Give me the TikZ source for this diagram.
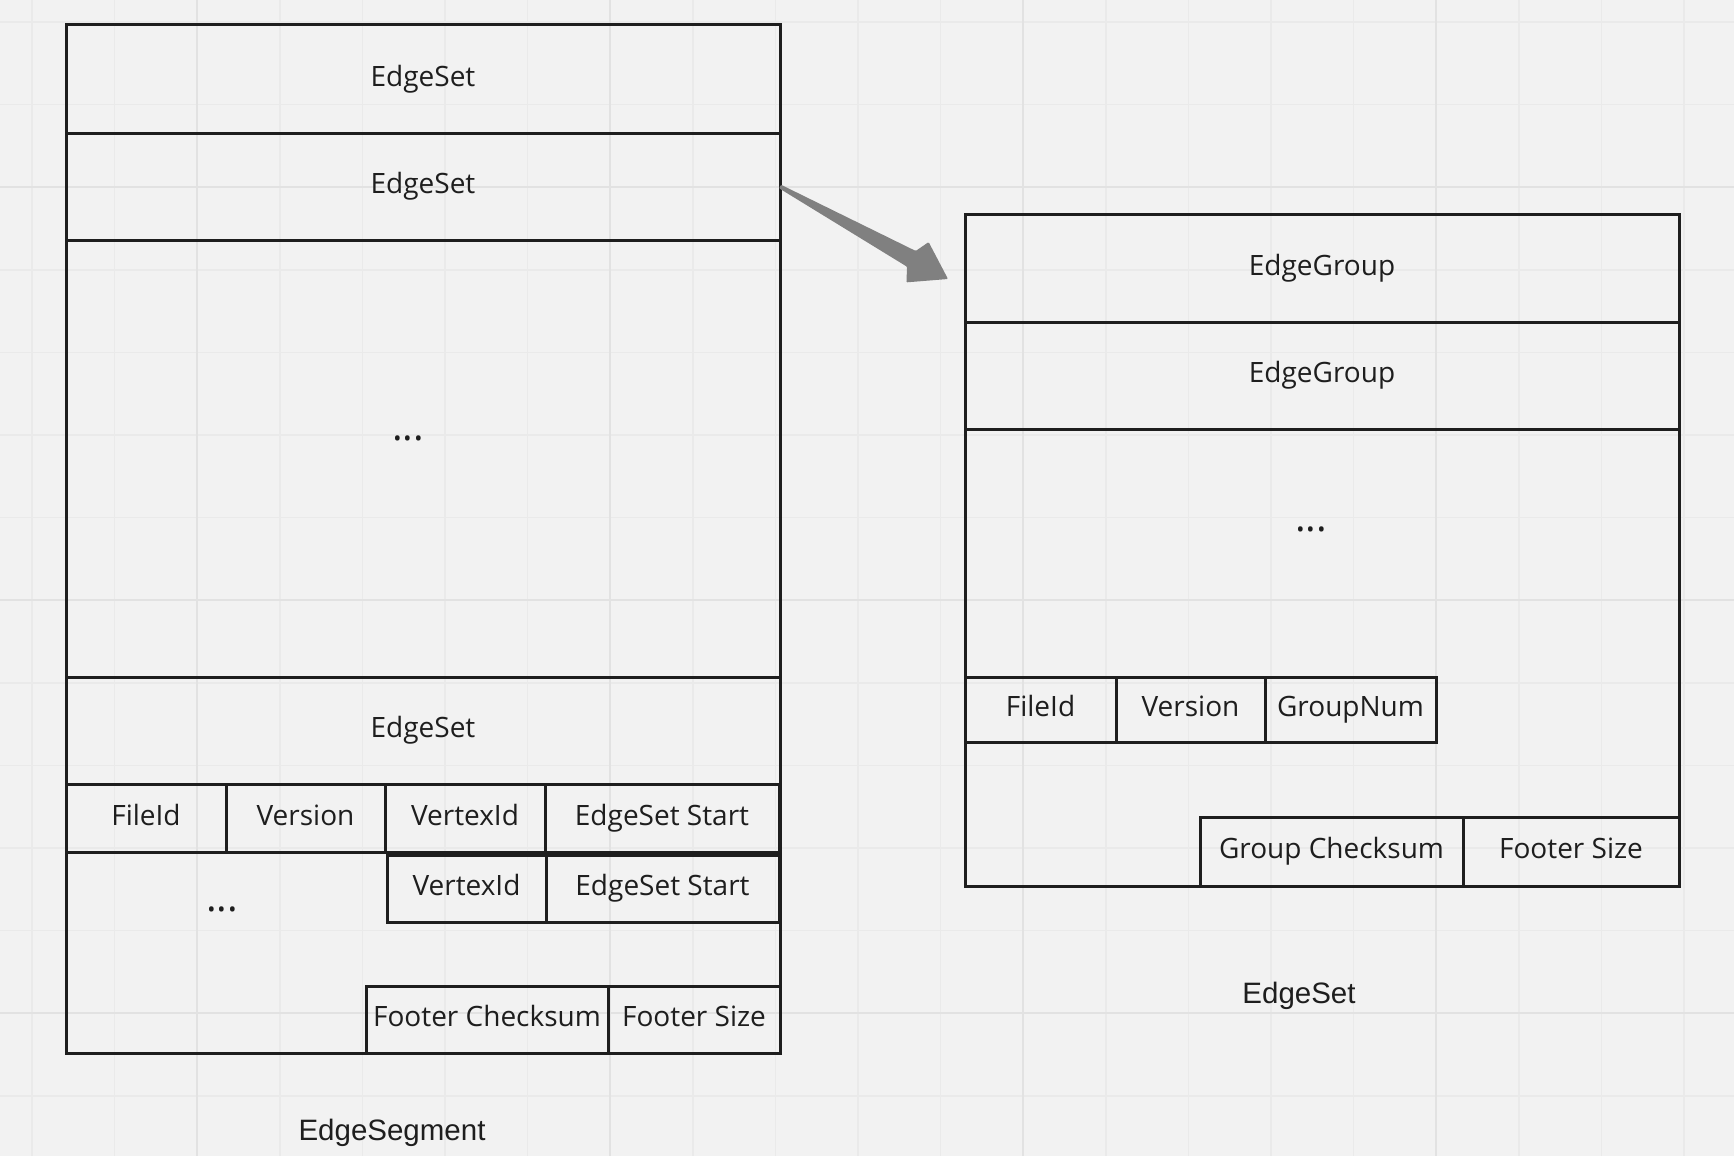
\documentclass[tikz,border=0pt]{standalone}
\usepackage{fontspec}
\setmainfont{Open Sans}
\newfontfamily\labelfont{Liberation Sans}
\usetikzlibrary{calc}
\definecolor{bgc}{HTML}{F2F2F2}
\definecolor{gridminor}{HTML}{EAEAEA}
\definecolor{gridmajor}{HTML}{E2E2E2}
\definecolor{linec}{HTML}{1E1E1E}
\definecolor{txtc}{HTML}{1E1E1E}
\definecolor{arrowc}{HTML}{808080}
\begin{document}
\begin{tikzpicture}[x=1pt,y=-1pt,
  cell/.style={draw=linec, line width=3pt, rectangle, inner sep=0pt, outer sep=0pt,
    anchor=north west, font=\fontsize{28}{32}\selectfont, text=txtc,
    text height=21pt, text depth=7pt},
  frame/.style={draw=linec, line width=3pt, rectangle, inner sep=0pt, outer sep=0pt, anchor=north west},
  dots/.style={font=\fontsize{40}{44}\selectfont, text=txtc, anchor=base, inner sep=0pt},
  caption/.style={font=\labelfont\fontsize{29.5}{34}\selectfont, text=txtc, anchor=base, inner sep=0pt}]
\useasboundingbox (0,0) rectangle (1734,1156);
\fill[bgc] (0,0) rectangle (1734,1156);
% grid
\foreach \i in {0,...,20} {
  \pgfmathsetmacro{\gx}{32+82.6*\i}
  \draw[gridminor, line width=1.4pt] (\gx,0) -- (\gx,1156);
}
\foreach \i in {0,...,13} {
  \pgfmathsetmacro{\gy}{22+82.6*\i}
  \draw[gridminor, line width=1.4pt] (0,\gy) -- (1734,\gy);
}
\foreach \gx in {197.2,610.2,1023.2,1436.2} \draw[gridmajor, line width=2pt] (\gx,0) -- (\gx,1156);
\foreach \gy in {187.2,600.2,1013.2} \draw[gridmajor, line width=2pt] (0,\gy) -- (1734,\gy);

% ---- Left: EdgeSegment ----
\node[frame, minimum width=714, minimum height=1028] (seg) at (66,25) {};
\node[cell, minimum width=714, minimum height=108] (es1) at (66,25) {EdgeSet};
\node[cell, minimum width=714, minimum height=107] (es2) at (66,133) {EdgeSet};
\node[dots] (segdots) at (408,440) {...};
\node[cell, minimum width=714, minimum height=107] (es3) at (66,677) {EdgeSet};
\node[cell, minimum width=160, minimum height=68] (sfile) at (66,784) {FileId};
\node[cell, minimum width=159, minimum height=68] (sver) at (226,784) {Version};
\node[cell, minimum width=160, minimum height=68] (svid1) at (385,784) {VertexId};
\node[cell, minimum width=234, minimum height=68] (sstart1) at (545,784) {EdgeSet Start};
\node[cell, minimum width=159, minimum height=67] (svid2) at (387,855) {VertexId};
\node[cell, minimum width=233, minimum height=67] (sstart2) at (546,855) {EdgeSet Start};
\node[dots] (footdots) at (222,911) {...};
\node[cell, minimum width=242, minimum height=67] (schk) at (366,986) {Footer Checksum};
\node[cell, minimum width=172, minimum height=67] (ssize) at (608,986) {Footer Size};
\node[caption] (segcap) at (392,1140) {EdgeSegment};

% ---- Right: EdgeSet ----
\node[frame, minimum width=714, minimum height=672] (set) at (965,214) {};
\node[cell, minimum width=714, minimum height=108] (eg1) at (965,214) {EdgeGroup};
\node[cell, minimum width=714, minimum height=107] (eg2) at (965,322) {EdgeGroup};
\node[dots] (setdots) at (1311,531) {...};
\node[cell, minimum width=151, minimum height=65] (rfile) at (965,677) {FileId};
\node[cell, minimum width=149, minimum height=65] (rver) at (1116,677) {Version};
\node[cell, minimum width=171, minimum height=65] (rgnum) at (1265,677) {GroupNum};
\node[cell, minimum width=263, minimum height=69] (rchk) at (1200,817) {Group Checksum};
\node[cell, minimum width=216, minimum height=69] (rsize) at (1463,817) {Footer Size};
\node[caption] (setcap) at (1299,1003) {EdgeSet};

% ---- Arrow ----
\coordinate (tip) at (948,279);
\coordinate (a0) at (es2.east);
\fill[arrowc, rounded corners=1pt]
  ($(a0)!2pt!90:(tip)$)
  -- ($($(a0)!150pt!(tip)$)!9pt!90:(tip)$)
  -- ($($(a0)!157pt!(tip)$)!23pt!90:(tip)$)
  -- (tip)
  -- ($($(a0)!157pt!(tip)$)!23pt!-90:(tip)$)
  -- ($($(a0)!150pt!(tip)$)!9pt!-90:(tip)$)
  -- ($(a0)!2pt!-90:(tip)$)
  -- cycle;
\end{tikzpicture}
\end{document}
